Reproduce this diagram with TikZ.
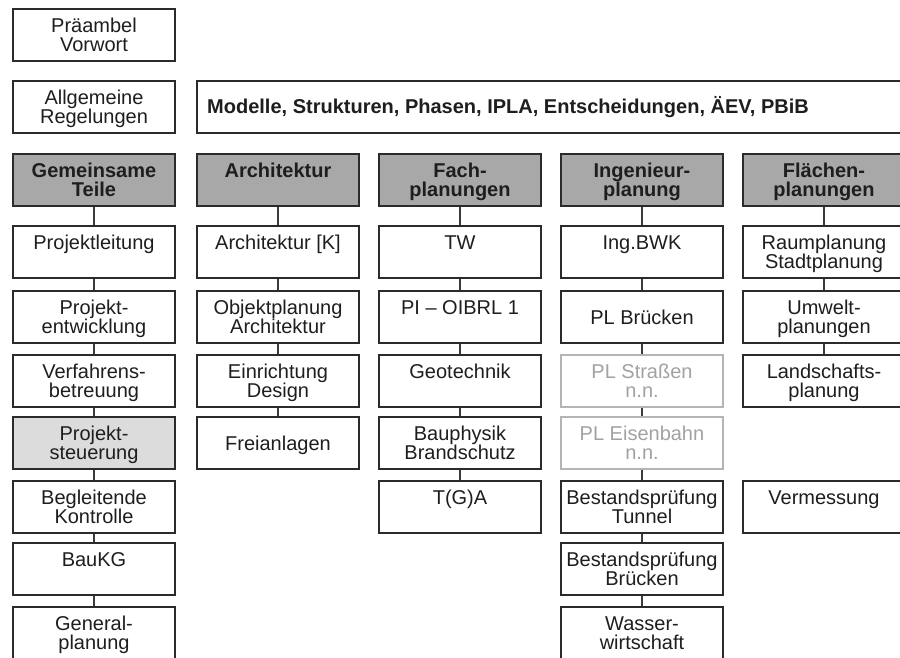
\documentclass[tikz,border=0pt]{standalone}
\usepackage{fontspec}
\setmainfont{Liberation Sans}
\definecolor{boxline}{HTML}{2B2B2B}
\definecolor{connc}{HTML}{3A3A3A}
\definecolor{textc}{HTML}{1E1E1E}
\definecolor{headfill}{HTML}{A8A8A8}
\definecolor{lightfill}{HTML}{DCDCDC}
\definecolor{greyline}{HTML}{B4B4B4}
\definecolor{greytext}{HTML}{A2A2A2}
\begin{document}
\begin{tikzpicture}[x=1pt,y=-1pt,
  box/.style={draw=boxline, line width=1.7pt, fill=white, minimum width=162pt,
    minimum height=52pt, inner sep=0pt, text height=20pt, text depth=26pt,
    align=center, font=\fontsize{20}{19}\selectfont, text=textc},
  two/.style={text height=39pt, text depth=7pt},
  centred/.style={text height=14pt, text depth=0pt},
  head/.style={box, fill=headfill, font=\fontsize{20}{19}\selectfont\bfseries},
  soft/.style={box, fill=lightfill},
  ghost/.style={box, draw=greyline, text=greytext},
  conn/.style={draw=connc, line width=1.2pt}]
\clip (0,0) rectangle (900,657);
\fill[white] (0,0) rectangle (900,657);

% top rows
\node[box, two] (p) at (94,35) {Präambel\\Vorwort};
\node[box, two] (r) at (94,107) {Allgemeine\\Regelungen};
\node[box, centred, minimum width=708pt] (m) at (551,107) {};
\node[anchor=west, font=\fontsize{20}{19}\selectfont\bfseries, text=textc, inner sep=0pt] (mt) at (207,107) {Modelle, Strukturen, Phasen, IPLA, Entscheidungen, ÄEV, PBiB};

% column 1
\node[head, two] (g0) at (94,180) {Gemeinsame\\Teile};
\node[box]       (g1) at (94,252) {Projektleitung};
\node[box, two]  (g2) at (94,317) {Projekt-\\entwicklung};
\node[box, two]  (g3) at (94,381) {Verfahrens-\\betreuung};
\node[soft, two] (g4) at (94,443) {Projekt-\\steuerung};
\node[box, two]  (g5) at (94,507) {Begleitende\\Kontrolle};
\node[box]       (g6) at (94,569) {BauKG};
\node[box, two]  (g7) at (94,633) {General-\\planung};

% column 2
\node[head]      (a0) at (278,180) {Architektur};
\node[box]       (a1) at (278,252) {Architektur [K]};
\node[box, two]  (a2) at (278,317) {Objektplanung\\Architektur};
\node[box, two]  (a3) at (278,381) {Einrichtung\\Design};
\node[box, centred] (a4) at (278,443) {Freianlagen};

% column 3
\node[head, two] (f0) at (460,180) {Fach-\\planungen};
\node[box]       (f1) at (460,252) {TW};
\node[box]       (f2) at (460,317) {PI – OIBRL 1};
\node[box]       (f3) at (460,381) {Geotechnik};
\node[box, two]  (f4) at (460,443) {Bauphysik\\Brandschutz};
\node[box]       (f5) at (460,507) {T(G)A};

% column 4
\node[head, two]  (i0) at (642,180) {Ingenieur-\\planung};
\node[box]        (i1) at (642,252) {Ing.BWK};
\node[box, centred] (i2) at (642,317) {PL Brücken};
\node[ghost, two] (i3) at (642,381) {PL Straßen\\n.n.};
\node[ghost, two] (i4) at (642,443) {PL Eisenbahn\\n.n.};
\node[box, two]   (i5) at (642,507) {Bestandsprüfung\\Tunnel};
\node[box, two]   (i6) at (642,569) {Bestandsprüfung\\Brücken};
\node[box, two]   (i7) at (642,633) {Wasser-\\wirtschaft};

% column 5
\node[head, two] (l0) at (824,180) {Flächen-\\planungen};
\node[box, two]  (l1) at (824,252) {Raumplanung\\Stadtplanung};
\node[box, two]  (l2) at (824,317) {Umwelt-\\planungen};
\node[box, two]  (l3) at (824,381) {Landschafts-\\planung};
\node[box]       (l5) at (824,507) {Vermessung};

% connectors
\foreach \c/\n in {g/7, a/4, f/5, i/7, l/3}{
  \foreach \k [evaluate=\k as \j using int(\k-1)] in {1,...,\n}{
    \draw[conn] (\c\j.south) -- (\c\k.north);
  }
}
\end{tikzpicture}
\end{document}
